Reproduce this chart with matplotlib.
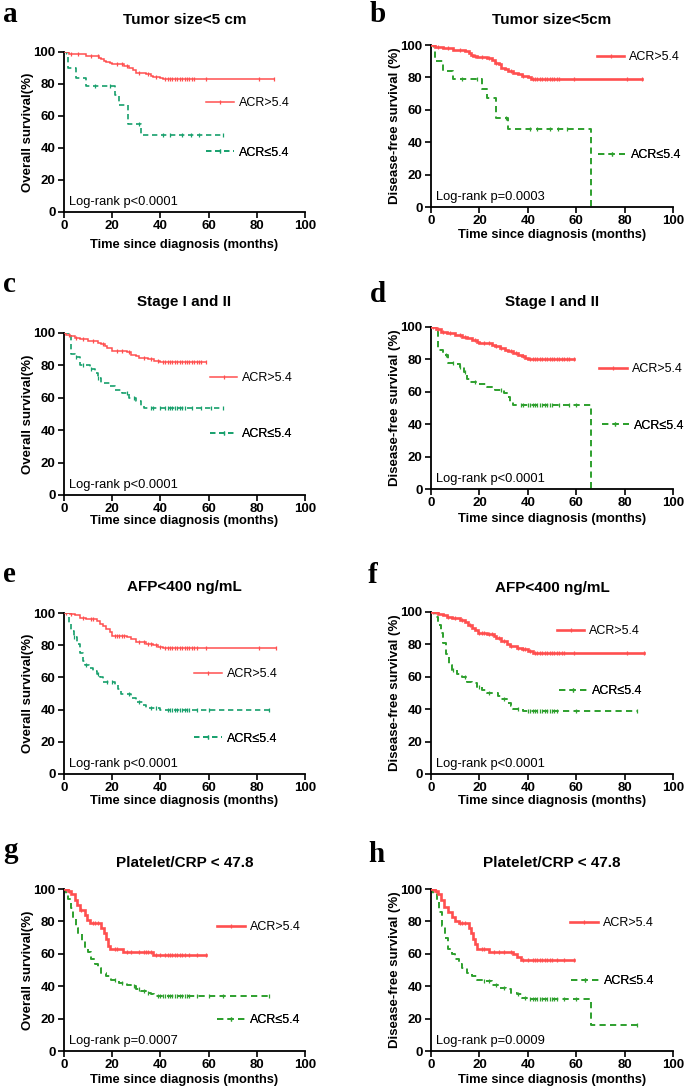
import numpy as np
import matplotlib
matplotlib.use("Agg")
import matplotlib.pyplot as plt
from matplotlib.lines import Line2D

plt.rcParams['font.family'] = ['Liberation Sans', 'DejaVu Sans']

# ---------------- data ----------------
# panel a: OS, tumor size < 5 cm
a_red_t = [0, 2, 5, 9, 14.6, 15.5, 16.5, 17.5, 19, 20, 25, 27, 28.5, 30, 34, 36, 37, 40, 41, 87]
a_red_s = [100, 99, 98.5, 97.7, 96.5, 95.6, 94.6, 93.7, 93, 92.3, 91.5, 89.8, 88.6, 87, 86, 85.2, 84.4, 83.6, 83, 83]
a_red_c = [3, 6, 11, 14, 22, 24, 26, 31, 35, 38, 42, 43, 44, 45, 46, 47, 48, 49, 50, 51, 52, 53, 54, 59, 81, 87]
a_grn_t = [0, 1.8, 5, 9, 21, 23, 26.7, 32, 66]
a_grn_s = [100, 90, 84, 79, 73, 67, 55, 48, 48]
a_grn_c = [1, 13, 19, 31, 41, 44, 49, 52.5, 56, 66]

# panel b: DFS, tumor size < 5 cm
b_red_t = [0, 1.5, 5, 9, 14, 15.5, 16.5, 17.5, 19, 23, 25, 26.5, 28, 29, 30.5, 32, 34, 36, 37.5, 40, 41.5, 87]
b_red_s = [100, 99, 98, 97, 96, 95, 94, 93, 92.5, 92, 91, 89, 88, 86, 85, 84, 83, 82, 81, 80, 79, 79]
b_red_c = [3, 7, 12, 18, 21, 24, 27, 33, 38, 42, 43, 44, 45, 46, 47, 48, 49, 50, 51, 52, 53, 59, 81, 87]
b_grn_t = [0, 1.8, 5, 9, 21, 23, 26.7, 32, 66]
b_grn_s = [100, 90, 84, 79, 73, 67, 55, 48, 0]
b_grn_c = [1, 13, 19, 31, 41, 44, 49, 52.5, 56]

# panel c: OS, stage I and II
c_red_t = [0, 1, 2.5, 4.5, 6.6, 10, 14, 15.5, 17, 18, 20, 26, 28, 30, 31, 35, 37.5, 40, 59]
c_red_s = [100, 99, 98, 97, 96, 95, 94, 93, 92, 91, 89, 88, 86.5, 85.5, 84.5, 84, 83, 82, 82]
c_red_c = [2, 5, 8, 12, 16, 22, 24, 27, 33, 36, 39, 41, 42, 43, 44, 45, 46, 47, 48, 49, 50, 51, 52, 53, 54, 55, 56, 57, 59]
c_grn_t = [0, 3, 4.5, 6.6, 10.7, 12.8, 14, 15.5, 19, 21, 24, 27, 30, 32, 33, 34, 66]
c_grn_s = [100, 87, 85, 80, 78, 75, 72, 69, 67, 65, 63, 60, 58, 55, 54, 53.5, 53.5]
c_grn_c = [5, 8, 11, 14, 26, 29, 36, 37, 40, 42, 43, 44, 45, 46, 47, 48, 49, 50, 53, 57, 61, 66]

# panel d: DFS, stage I and II
d_red_t = [0, 2, 4, 6.6, 10, 12.8, 15, 17, 19, 20, 25, 26.5, 28.5, 30.6, 32, 34, 36, 37.5, 39, 40, 59]
d_red_s = [100, 99, 97, 96, 95, 94, 93, 92, 91, 90, 89, 88, 87, 86, 85, 84, 83, 82, 81, 80, 80]
d_red_c = [1, 3, 5, 8, 12, 14, 18, 22, 24, 27, 29, 33, 35, 38, 41, 42, 43, 44, 45, 46, 47, 48, 49, 50, 51, 52, 53, 54, 55, 56, 57, 59]
d_grn_t = [0, 3, 5, 7, 10.7, 12, 13.5, 15, 16, 19.6, 23, 26.5, 30, 31.3, 32.7, 34, 66]
d_grn_s = [100, 86, 83, 78, 77, 75, 72, 68, 66, 65, 63, 61, 59, 57, 54, 52, 0]
d_grn_c = [6, 9, 12, 14, 18, 29, 37, 38, 40, 41, 42, 43, 44, 45, 46, 47, 48, 49, 50, 53, 57, 60]

# panel e: OS, AFP < 400 ng/mL
e_red_t = [0, 2.5, 4.5, 6.6, 9.3, 13.5, 15, 16, 17.6, 19, 20, 26, 28, 30, 34, 37, 39, 41, 88]
e_red_s = [100, 99.5, 98.5, 97, 96, 95, 93, 92, 90, 88, 86, 85, 84, 82, 81, 80, 79, 78, 78]
e_red_c = [1, 3, 8, 11, 12, 21, 22, 23, 24, 25, 31, 33, 35, 36, 38, 40, 42, 43, 44, 45, 46, 47, 48, 49, 50, 51, 52, 53, 54, 55, 59, 81, 88]
e_grn_t = [0, 2, 3, 4, 5.5, 6.6, 7.7, 8.6, 10.4, 12, 13.5, 15, 16, 21, 22.4, 23.8, 28, 30, 32.7, 34, 40, 85]
e_grn_s = [100, 93, 89, 85, 81, 75, 70, 68, 66, 64, 62, 60, 57, 55, 53, 50, 47, 45, 43, 41, 40, 40]
e_grn_c = [4, 9, 14, 18, 20, 27, 31, 36, 38, 43, 44, 45, 46, 47, 48, 49, 50, 51, 52, 55, 60, 85]

# panel f: DFS, AFP < 400 ng/mL
f_red_t = [0, 3, 5, 6.6, 8.6, 12, 14, 15.4, 17, 18, 19.6, 23, 26, 27, 29, 31.3, 32.7, 35.4, 37.5, 40, 42, 88]
f_red_s = [100, 99, 98, 97, 96, 95, 94, 92, 90, 89, 87, 86.5, 85, 84, 82, 80, 79, 78, 77, 76, 75, 75]
f_red_c = [1, 2, 7, 10, 13, 16, 20, 21, 22, 24, 25, 28, 30, 33, 36, 38, 39, 41, 43, 44, 45, 46, 47, 48, 49, 50, 51, 52, 53, 54, 55, 59, 81, 88]
f_grn_t = [0, 1.8, 3, 4, 5, 6.3, 7.3, 8.6, 10.7, 12.8, 15, 17, 19, 21, 23, 27.5, 29, 31.3, 33, 34, 38, 85]
f_grn_s = [100, 97, 92, 87, 81, 74, 67, 64, 62, 60, 57, 56, 54, 52, 50, 48, 46, 44, 42, 40, 39, 39]
f_grn_c = [9, 14, 20, 24, 30, 36, 40, 41, 42, 43, 44, 45, 46, 47, 48, 49, 50, 51, 52, 60, 85]

# panel g: OS, platelet/CRP < 47.8
g_red_t = [0, 1.8, 3, 4.5, 5.5, 6.6, 8.6, 9.6, 10.7, 15.5, 16.5, 17.3, 18.3, 19.2, 24.5, 37, 59]
g_red_s = [100, 99, 97, 93, 90, 87, 84, 81, 79, 76, 73, 69, 65, 63, 61, 59.5, 59.5]
g_red_c = [1, 2, 7, 12, 13, 14, 21, 22, 26, 28, 31, 33, 34, 35, 36, 38, 40, 42, 43, 44, 45, 46, 47, 48, 49, 50, 52, 55, 59]
g_grn_t = [0, 1, 1.8, 2.7, 3.8, 5, 6, 7.3, 8.6, 10, 11.4, 12.8, 14, 15.5, 17.6, 19.6, 23, 26, 28, 30, 32, 34, 36, 37.5, 85]
g_grn_s = [100, 97, 94, 88, 82, 76, 72, 68, 64, 61, 57, 54, 51, 48, 46, 44, 42, 41, 40, 38, 37, 36, 35, 34, 34]
g_grn_c = [21, 24, 29, 31, 33, 35, 39, 40, 41, 42, 43, 44, 45, 46, 47, 48, 49, 50, 51, 52, 55, 60, 66, 85]

# panel h: DFS, platelet/CRP < 47.8
h_red_t = [0, 1.5, 3, 4.3, 5.5, 7, 8.6, 9.8, 11.4, 15.5, 16.5, 17.3, 18, 19, 24, 34, 35.4, 37, 59]
h_red_s = [100, 99, 97, 93, 89, 86, 83, 80, 79, 76, 73, 69, 66, 63, 61, 60, 58, 56, 56]
h_red_c = [1, 2, 12, 13, 14, 21, 22, 26, 28, 30, 33, 38, 40, 42, 43, 44, 45, 46, 47, 48, 49, 50, 52, 55, 59]
h_grn_t = [0, 1, 2.5, 3.4, 4.5, 5.6, 7, 8.6, 10, 11.4, 13, 15, 17, 19, 21.7, 25, 28.5, 31, 33, 35.4, 37.5, 39.5, 66, 85]
h_grn_s = [100, 97, 93, 86, 77, 70, 63, 60, 57, 54, 51, 48, 46, 44, 43, 41, 39, 38, 36, 35, 33, 32, 16, 16]
h_grn_c = [22, 24, 27, 30, 36, 39, 41, 42, 43, 44, 45, 46, 47, 48, 49, 50, 51, 52, 55, 60, 85]

letters = ['a', 'b', 'c', 'd', 'e', 'f', 'g', 'h']
titles = ['Tumor size<5 cm', 'Tumor size<5cm', 'Stage I and II', 'Stage I and II',
          'AFP<400 ng/mL', 'AFP<400 ng/mL', 'Platelet/CRP < 47.8', 'Platelet/CRP < 47.8']
ylabels = ['Overall survival(%)', 'Disease-free survival (%)'] * 4
pvals = ['Log-rank p<0.0001', 'Log-rank p=0.0003', 'Log-rank p<0.0001', 'Log-rank p<0.0001',
         'Log-rank p<0.0001', 'Log-rank p<0.0001', 'Log-rank p=0.0007', 'Log-rank p=0.0009']
series_names = ['ACR>5.4', 'ACR≤5.4']
x_ticks = [0, 20, 40, 60, 80, 100]
y_ticks = [0, 20, 40, 60, 80, 100]

curves = [
    (a_red_t, a_red_s, a_red_c, a_grn_t, a_grn_s, a_grn_c),
    (b_red_t, b_red_s, b_red_c, b_grn_t, b_grn_s, b_grn_c),
    (c_red_t, c_red_s, c_red_c, c_grn_t, c_grn_s, c_grn_c),
    (d_red_t, d_red_s, d_red_c, d_grn_t, d_grn_s, d_grn_c),
    (e_red_t, e_red_s, e_red_c, e_grn_t, e_grn_s, e_grn_c),
    (f_red_t, f_red_s, f_red_c, f_grn_t, f_grn_s, f_grn_c),
    (g_red_t, g_red_s, g_red_c, g_grn_t, g_grn_s, g_grn_c),
    (h_red_t, h_red_s, h_red_c, h_grn_t, h_grn_s, h_grn_c),
]

# ---------------- layout (pixels) ----------------
W, H = 685, 1092
# left, right, top, bottom
boxes = [(64, 305, 52, 212), (431, 673, 45, 207),
         (64, 305, 333, 495), (431, 673, 327, 489),
         (64, 305, 613, 774), (431, 673, 612, 774),
         (64, 305, 889, 1051), (431, 673, 889, 1051)]
letter_pos = [(3, 22), (370, 22), (3, 292), (370, 302), (3, 582), (368, 583), (3, 858), (368, 862)]
title_y = [20, 20, 302, 302, 587, 588, 863, 863]
xlabel_y = [245, 235, 521, 519, 801, 801, 1080, 1080]
# legend anchor (axes fraction): red entry, green entry
leg_pos = [((0.59, 0.68), (0.59, 0.37)), ((0.685, 0.926), (0.69, 0.32)),
           ((0.605, 0.72), (0.605, 0.377)), ((0.695, 0.74), (0.705, 0.39)),
           ((0.54, 0.62), (0.54, 0.22)), ((0.52, 0.88), (0.53, 0.51)),
           ((0.635, 0.765), (0.635, 0.19)), ((0.575, 0.79), (0.58, 0.43))]
thick = [False, True, False, True, False, True, True, True]
teal = [True, False, True, False, True, False, False, False]

RED = '#FF4F4F'
TEAL = '#16A06C'
GREEN = '#2EA02E'

fig = plt.figure(figsize=(W / 100, H / 100), dpi=100)


def step_value(t, times, surv):
    idx = np.searchsorted(np.asarray(times), np.asarray(t), side='right') - 1
    idx = np.clip(idx, 0, len(surv) - 1)
    return np.asarray(surv)[idx]


for i in range(8):
    l, r, tp, bt = boxes[i]
    ax = fig.add_axes([l / W, 1 - bt / H, (r - l) / W, (bt - tp) / H])
    rt, rs, rc, gt, gs, gc = curves[i]
    gcol = TEAL if teal[i] else GREEN
    lw_r = 1.9 if thick[i] else 1.1
    lw_g = 1.4 if thick[i] else 1.2
    dash = (0, (3.2, 2.2))
    ax.step(rt, rs, where='post', color=RED, lw=lw_r, solid_joinstyle='miter', zorder=3)
    ax.plot(rc, step_value(rc, rt, rs), ls='none', marker='|', color=RED, ms=3.5, mew=0.9, zorder=3)
    ax.step(gt, gs, where='post', color=gcol, lw=lw_g, ls=dash, zorder=2)
    ax.plot(gc, step_value(gc, gt, gs), ls='none', marker='|', color=gcol, ms=3.5, mew=0.9, zorder=2)

    ax.set_xlim(0, 100)
    ax.set_ylim(0, 100)
    ax.set_xticks(x_ticks)
    ax.set_yticks(y_ticks)
    for s in ['top', 'right']:
        ax.spines[s].set_visible(False)
    for s in ['left', 'bottom']:
        ax.spines[s].set_linewidth(1.3)
    ax.tick_params(direction='out', length=4, width=1.2, labelsize=9.5, pad=2)
    for lab in ax.get_xticklabels() + ax.get_yticklabels():
        lab.set_fontweight('bold')
    ax.set_ylabel(ylabels[i], fontsize=9.5, fontweight='bold')
    ax.yaxis.set_label_coords(-0.125, 0.5)
    ax.set_xlabel('Time since diagnosis (months)', fontsize=9.3, fontweight='bold')
    ax.xaxis.set_label_coords(0.5, (bt - xlabel_y[i]) / (bt - tp))
    ax.xaxis.label.set_va('center')

    ax.text(0.02, 0.06, pvals[i], transform=ax.transAxes, fontsize=9.3, va='center', ha='left')

    hr = Line2D([], [], color=RED, lw=lw_r, marker='|', ms=3.5, mew=0.9)
    hg = Line2D([], [], color=gcol, lw=lw_g, ls=dash, marker='|', ms=3.5, mew=0.9)
    for h, name, pos in [(hr, series_names[0], leg_pos[i][0]), (hg, series_names[1], leg_pos[i][1])]:
        lg = ax.legend([h], [name], loc='center left', bbox_to_anchor=pos, frameon=False,
                       borderpad=0, borderaxespad=0, handlelength=2.2, handletextpad=0.4,
                       numpoints=1, prop={'size': 9})
        ax.add_artist(lg)

    fig.text((l + r) / 2 / W, 1 - title_y[i] / H, titles[i], ha='center', va='center',
             fontsize=11, fontweight='bold')
    fig.text(letter_pos[i][0] / W, 1 - letter_pos[i][1] / H, letters[i], ha='left', va='baseline',
             fontsize=21, fontweight='bold', family=['Liberation Serif', 'DejaVu Serif'])

fig.savefig('out.png', dpi=100)
